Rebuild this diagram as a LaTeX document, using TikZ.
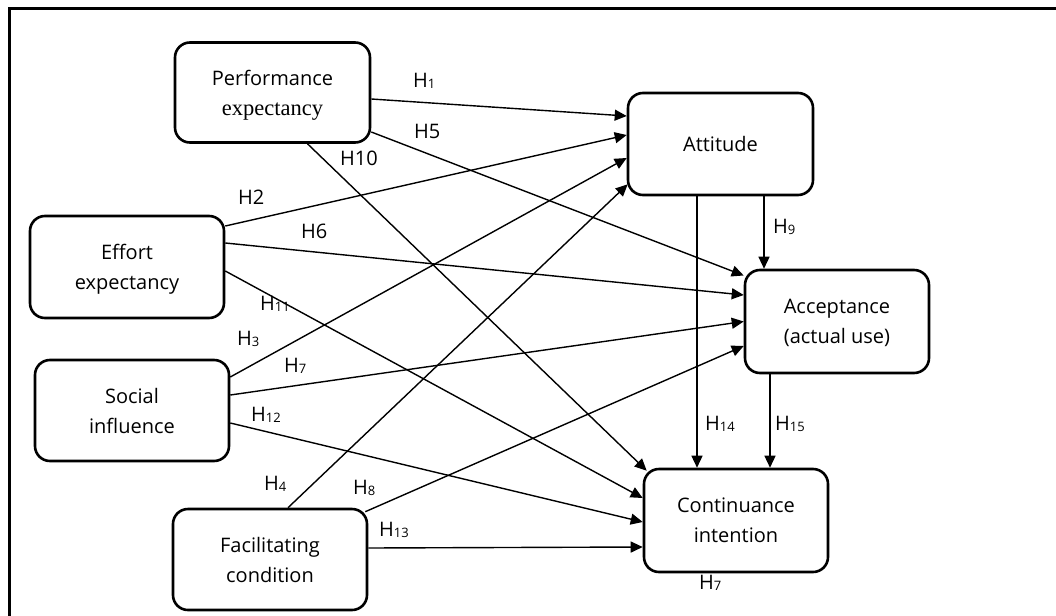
\documentclass[tikz,border=0pt]{standalone}
\usepackage{fontspec}
\setmainfont{Open Sans}
\newfontfamily\serifx{Liberation Serif}
\usetikzlibrary{arrows.meta}
\newcommand\hsub[1]{\raisebox{-1pt}{\fontsize{13}{13}\selectfont #1}}
\begin{document}
\begin{tikzpicture}[x=1pt,y=-1pt,
  box/.style={draw, line width=2.6pt, rounded corners=15pt, align=center, inner sep=0pt,
              text depth=0pt, font=\fontsize{20}{30}\selectfont},
  conn/.style={line width=1.4pt, -{Triangle[length=12pt,width=11pt]}},
  lab/.style={inner sep=0pt, anchor=base west, font=\fontsize{20}{24}\selectfont}]
\useasboundingbox (0,0) rectangle (1056,615);
\fill[white] (0,0) rectangle (1056,615);
% frame
\draw[line width=3pt] (9,616) -- (9,9) -- (1057,9);

% boxes
\node[box, minimum width=195pt, minimum height=100pt] (perf)   at (272.5,92.5) {Performance\\{\serifx\fontsize{22.5}{30}\selectfont expectancy}};
\node[box, minimum width=194pt, minimum height=102pt] (effort) at (127,267)    {Effort\\expectancy};
\node[box, minimum width=194pt, minimum height=101pt] (social) at (132,410.5)  {Social\\influence};
\node[box, minimum width=194pt, minimum height=101pt] (facil)  at (270,559.5)  {Facilitating\\condition};
\node[box, minimum width=185pt, minimum height=102pt] (att)    at (720.5,144)  {Attitude};
\node[box, minimum width=184pt, minimum height=103pt] (acc)    at (837,321.5)  {Acceptance\\(actual use)};
\node[box, minimum width=184pt, minimum height=103pt] (cont)   at (736,520.5)  {Continuance\\intention};

% connectors
\draw[conn] ([yshift=-6.5pt]perf.east)   -- ([yshift=28pt]att.west);
\draw[conn] ([yshift=-39.5pt]perf.east)  -- ([yshift=46pt]acc.west);
\draw[conn] ([xshift=35pt]perf.south)    -- ([xshift=4pt,yshift=-3pt]cont.north west);
\draw[conn] ([yshift=41pt]effort.east)   -- ([yshift=9pt]att.west);
\draw[conn] ([yshift=24pt]effort.east)   -- ([yshift=26.5pt]acc.west);
\draw[conn] ([yshift=-4pt]effort.east)   -- ([yshift=22.5pt]cont.west);
\draw[conn] ([yshift=33.5pt]social.east) -- ([yshift=-14pt]att.west);
\draw[conn] ([yshift=15.5pt]social.east) -- (acc.west);
\draw[conn] ([yshift=-12.5pt]social.east)-- ([yshift=-1.5pt]cont.west);
\draw[conn] ([xshift=18pt]facil.north)   -- ([xshift=1pt,yshift=12pt]att.south west);
\draw[conn] ([xshift=-3pt,yshift=-4pt]facil.north east) -- ([yshift=-24.5pt]acc.west);
\draw[conn] ([yshift=11.5pt]facil.east)  -- ([yshift=-26.5pt]cont.west);
\draw[conn] ([xshift=-23.5pt]att.south)  -- ([xshift=-39pt]cont.north);
\draw[conn] ([xshift=43.5pt]att.south)   -- ([xshift=-73pt]acc.north);
\draw[conn] ([xshift=-67pt]acc.south)    -- ([xshift=34pt]cont.north);

% labels
\node[lab] (l1)  at (413,88)  {H\hsub{1}};
\node[lab] (l5)  at (414,138) {H5};
\node[lab] (l10) at (340,165) {H10};
\node[lab] (l2)  at (238,204) {H2};
\node[lab] (l6)  at (301,238) {H6};
\node[lab] (l11) at (260,310) {H\hsub{11}};
\node[lab] (l3)  at (237,345) {H\hsub{3}};
\node[lab] (l7)  at (284,372) {H\hsub{7}};
\node[lab] (l12) at (251,421) {H\hsub{12}};
\node[lab] (l4)  at (264,490) {H\hsub{4}};
\node[lab] (l8)  at (353,494) {H\hsub{8}};
\node[lab] (l13) at (379,536) {H\hsub{13}};
\node[lab] (l9)  at (773,233) {H\hsub{9}};
\node[lab] (l14) at (705,430) {H\hsub{14}};
\node[lab] (l15) at (775,430) {H\hsub{15}};
\node[lab] (l7b) at (699,589) {H\hsub{7}};
\end{tikzpicture}
\end{document}
